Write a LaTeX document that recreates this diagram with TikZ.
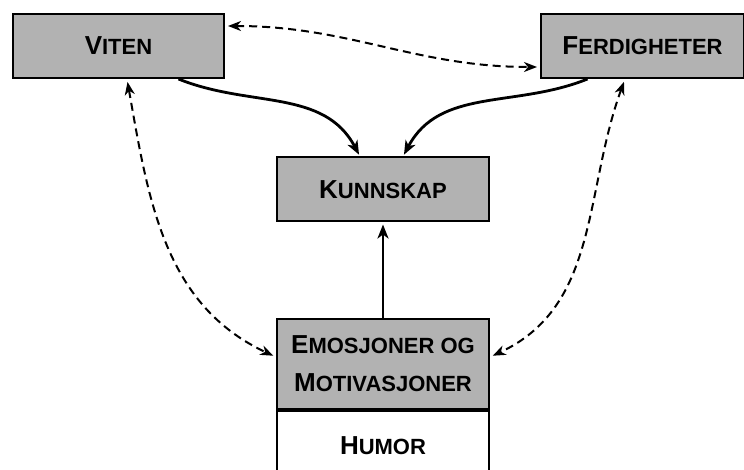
\documentclass[tikz,border=0pt]{standalone}
\usepackage{fontspec}
\setmainfont{Liberation Sans}
\usetikzlibrary{arrows.meta}

\newcommand{\kap}[2]{{\fontsize{26}{38}\selectfont #1}{\fontsize{22}{38}\selectfont #2}}

\begin{document}
\begin{tikzpicture}[x=1pt,y=-1pt]
	\tikzstyle{every node}=[draw=black,line width=2pt,inner sep=0pt,fill=black!30,
	font=\bfseries\fontsize{26}{38}\selectfont]
	\tikzstyle{boks}=[minimum width=211pt,minimum height=64pt]
	\tikzstyle{pil}=[line width=2.8pt,shorten >=2pt,
	-{Stealth[length=14pt,width=11pt,inset=4pt]}]
	\tikzstyle{stiplet}=[line width=2pt,dash pattern=on 8pt off 5pt,
	shorten >=3pt,shorten <=3pt,
	{Stealth[length=13pt,width=10pt,inset=4pt]}-{Stealth[length=13pt,width=10pt,inset=4pt]}]
	\useasboundingbox (0,0) rectangle (744,470);
	\node[boks] (viten) at (118.5,46) {\kap{V}{ITEN}};
	\node[boks,minimum width=203pt] (ferd) at (642.5,46) {\kap{F}{ERDIGHETER}};
	\node[boks,minimum width=212pt] (kunnskap) at (383,189.5) {\kap{K}{UNNSKAP}};
	\node[minimum width=212pt,minimum height=90pt,align=center] (emo) at (383,364)
	{\kap{E}{MOSJONER OG}\\\kap{M}{OTIVASJONER}};
	\node[minimum width=212pt,minimum height=70pt,fill=white,anchor=north] (humor) at (emo.south)
	{\kap{H}{UMOR}};
	\draw[stiplet] ([yshift=20pt]viten.east) to[out=0,in=180] ([yshift=-21pt]ferd.west);
	\draw[pil] ([xshift=60pt]viten.south) to[out=-22,in=118] ([xshift=-23pt]kunnskap.north);
	\draw[pil] ([xshift=-55pt]ferd.south) to[out=202,in=62] ([xshift=20pt]kunnskap.north);
	\draw[pil] (emo.north) -- (kunnskap.south);
	\draw[stiplet] ([xshift=8.5pt]viten.south) to[out=-80,in=155] ([yshift=7pt]emo.west);
	\draw[stiplet] ([xshift=-17.5pt]ferd.south) to[out=-110,in=25] ([yshift=7pt]emo.east);
\end{tikzpicture}
\end{document}
